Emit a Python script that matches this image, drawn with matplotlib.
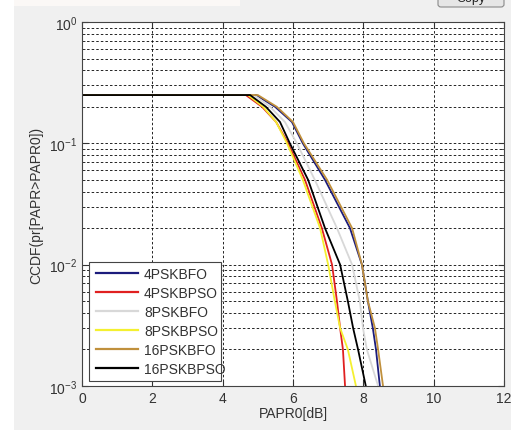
import numpy as np
import matplotlib
matplotlib.use("Agg")
import matplotlib.pyplot as plt
from matplotlib.patches import Rectangle, FancyBboxPatch

plt.rcParams["font.family"] = ["Liberation Sans", "DejaVu Sans"]
plt.rcParams["mathtext.fontset"] = "custom"
plt.rcParams["mathtext.rm"] = "Liberation Sans"
plt.rcParams["mathtext.it"] = "Liberation Sans"

# CCDF levels shared by every curve, and the PAPR0 value where each curve crosses them
ccdf = [0.25, 0.25, 0.2, 0.15, 0.1, 0.05, 0.02, 0.01, 0.005, 0.003, 0.002, 0.001]

papr_4psk_bfo = [0, 4.95, 5.49, 5.97, 6.28, 6.91, 7.62, 7.96, 8.13, 8.27, 8.36, 8.47]
papr_4psk_bpso = [0, 4.66, 5.12, 5.52, 5.86, 6.34, 6.82, 7.11, 7.25, 7.34, 7.42, 7.48]
papr_8psk_bfo = [0, 4.89, 5.35, 5.77, 6.11, 6.62, 7.25, 7.68, 7.90, 7.99, 8.10, 8.42]
papr_8psk_bpso = [0, 4.72, 5.15, 5.52, 5.83, 6.28, 6.77, 7.00, 7.19, 7.34, 7.56, 7.79]
papr_16psk_bfo = [0, 5.00, 5.54, 6.00, 6.31, 6.97, 7.68, 7.96, 8.13, 8.33, 8.42, 8.56]
papr_16psk_bpso = [0, 4.78, 5.23, 5.63, 5.91, 6.43, 6.91, 7.34, 7.56, 7.71, 7.85, 8.07]

labels = ["4PSKBFO", "4PSKBPSO", "8PSKBFO", "8PSKBPSO", "16PSKBFO", "16PSKBPSO"]
series = [papr_4psk_bfo, papr_4psk_bpso, papr_8psk_bfo,
          papr_8psk_bpso, papr_16psk_bfo, papr_16psk_bpso]
colors = ["#1c1c7c", "#e02020", "#d8d8d8", "#f4f030", "#c0903c", "#000000"]

fig = plt.figure(figsize=(5.11, 4.31), dpi=100, facecolor="#f0f0f0")

# bits of the window around the figure
fig.patches.append(Rectangle((0, 0), 14 / 511, 1, transform=fig.transFigure,
                             facecolor="white", edgecolor="none"))
fig.patches.append(Rectangle((14 / 511, 1 - 7 / 431), 226 / 511, 7 / 431,
                             transform=fig.transFigure, facecolor="#fbf8f6",
                             edgecolor="none"))
fig.patches.append(FancyBboxPatch((438 / 511, 1 - 8 / 431), 66 / 511, 14 / 431,
                                  boxstyle="round,pad=0,rounding_size=0.006",
                                  transform=fig.transFigure, facecolor="#e6e6e6",
                                  edgecolor="#8a8a8a", lw=0.8))
fig.text(471 / 511, 1 + 1 / 431, "Copy", ha="center", va="center",
         fontsize=9, color="#222222")

ax = fig.add_axes([82 / 511, 1 - 387 / 431, 422 / 511, 364 / 431])
ax.set_facecolor("white")

for x, lab, c in zip(series, labels, colors):
    ax.plot(x, ccdf, color=c, lw=1.3, label=lab)

ax.set_yscale("log")
ax.set_xlim(0, 12)
ax.set_ylim(1e-3, 1)
ax.set_xticks([0, 2, 4, 6, 8, 10, 12])

ax.grid(True, which="major", color="black", linestyle=(0, (3, 2.5)), lw=0.6)
ax.grid(True, which="minor", axis="y", color="black", linestyle=(0, (3, 2.5)), lw=0.6)
ax.tick_params(which="both", direction="in", top=True, right=True,
               labelsize=10, labelcolor="#333333", color="#333333")
ax.tick_params(which="major", length=4)
ax.tick_params(which="minor", length=2)
for s in ax.spines.values():
    s.set_color("#444444")
    s.set_linewidth(0.8)

ax.set_xlabel("PAPR0[dB]", fontsize=10, color="#333333", labelpad=1)
ax.set_ylabel("CCDF(pr[PAPR>PAPR0])", fontsize=10, color="#333333", labelpad=4)

# MATLAB-style legend box: fixed size, the longest labels run over its edge
ax.add_patch(Rectangle((7 / 422, 5 / 364), 132 / 422, 119 / 364,
                       transform=ax.transAxes, facecolor="white",
                       edgecolor="#444444", lw=0.8, zorder=4))
leg = ax.legend(loc="upper left", bbox_to_anchor=(14 / 422, 119 / 364),
                fontsize=10, handlelength=3.0, handletextpad=0.45,
                labelspacing=0.36, borderpad=0, borderaxespad=0, frameon=False)
leg.set_zorder(5)
for line in leg.get_lines():
    line.set_linewidth(1.6)
for t in leg.get_texts():
    t.set_color("#333333")

fig.savefig("out.png", dpi=100, facecolor=fig.get_facecolor())
